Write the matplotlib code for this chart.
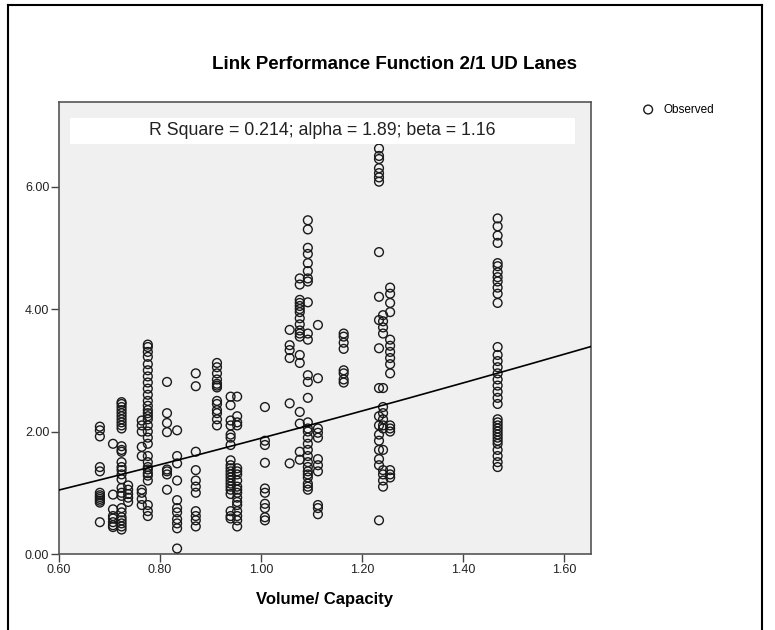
import numpy as np
import matplotlib.pyplot as plt
from matplotlib.lines import Line2D
from matplotlib.patches import Rectangle

plt.rcParams['font.family'] = ['Liberation Sans', 'DejaVu Sans']

# observed points, grouped by volume/capacity column
vc_levels = [0.681, 0.707, 0.724, 0.737, 0.764, 0.776, 0.814, 0.834, 0.871,
             0.913, 0.940, 0.953, 1.008, 1.057, 1.077, 1.093, 1.113, 1.164,
             1.234, 1.242, 1.256, 1.469]
tt_values = [
    [2.08, 2.02, 1.92, 1.42, 1.35, 1.00, 0.96, 0.93, 0.90, 0.87, 0.84, 0.52],
    [1.80, 0.97, 0.73, 0.62, 0.58, 0.52, 0.47, 0.44],
    [2.48, 2.45, 2.40, 2.35, 2.30, 2.25, 2.20, 2.15, 2.10, 2.05, 1.76, 1.70,
     1.67, 1.50, 1.42, 1.37, 1.30, 1.22, 1.08, 1.00, 0.95, 0.75, 0.68, 0.60,
     0.55, 0.50, 0.45, 0.40],
    [1.12, 1.05, 0.98, 0.92, 0.85],
    [2.18, 2.10, 2.00, 1.75, 1.60, 1.05, 1.00, 0.90, 0.80],
    [3.42, 3.38, 3.30, 3.22, 3.10, 3.00, 2.90, 2.80, 2.70, 2.60, 2.50, 2.42,
     2.35, 2.30, 2.25, 2.20, 2.10, 2.00, 1.90, 1.80, 1.60, 1.50, 1.42, 1.38,
     1.32, 1.28, 1.20, 0.80, 0.70, 0.62],
    [2.81, 2.30, 2.14, 1.99, 1.38, 1.35, 1.30, 1.05],
    [2.02, 1.60, 1.48, 1.20, 0.88, 0.75, 0.68, 0.57, 0.50, 0.42, 0.09],
    [2.95, 2.74, 1.67, 1.37, 1.20, 1.10, 1.00, 0.70, 0.62, 0.55, 0.45],
    [3.12, 3.05, 2.95, 2.85, 2.78, 2.75, 2.72, 2.50, 2.45, 2.35, 2.30, 2.20,
     2.10],
    [2.57, 2.43, 2.18, 2.10, 1.95, 1.90, 1.78, 1.53, 1.45, 1.40, 1.35, 1.30,
     1.25, 1.20, 1.15, 1.10, 1.05, 0.98, 0.70, 0.62, 0.58],
    [2.57, 2.25, 2.15, 2.10, 1.40, 1.35, 1.30, 1.20, 1.10, 1.05, 1.00, 0.92,
     0.85, 0.80, 0.70, 0.62, 0.55, 0.45],
    [2.40, 1.85, 1.78, 1.49, 1.07, 1.00, 0.82, 0.75, 0.60, 0.55],
    [3.66, 3.41, 3.33, 3.20, 2.46, 1.48],
    [4.50, 4.40, 4.15, 4.10, 4.05, 4.00, 3.95, 3.85, 3.75, 3.65, 3.60, 3.55,
     3.25, 3.12, 2.32, 2.13, 1.67, 1.54],
    [5.45, 5.30, 5.00, 4.90, 4.75, 4.62, 4.50, 4.45, 4.11, 3.60, 3.50, 2.92,
     2.81, 2.55, 2.15, 2.05, 2.00, 1.90, 1.80, 1.70, 1.60, 1.50, 1.42, 1.35,
     1.30, 1.25, 1.15, 1.10, 1.05],
    [3.74, 2.87, 2.05, 1.98, 1.90, 1.55, 1.45, 1.35, 0.80, 0.75, 0.65],
    [3.60, 3.55, 3.45, 3.35, 3.00, 2.95, 2.85, 2.80],
    [6.62, 6.50, 6.45, 6.30, 6.22, 6.15, 6.08, 4.93, 4.20, 3.82, 3.36, 2.71,
     2.25, 2.10, 1.95, 1.85, 1.70, 1.55, 1.45, 0.55],
    [3.90, 3.80, 3.70, 3.60, 2.71, 2.40, 2.30, 2.20, 2.10, 2.05, 1.70, 1.37,
     1.30, 1.20, 1.10],
    [4.35, 4.25, 4.10, 3.95, 3.50, 3.40, 3.30, 3.20, 3.10, 2.95, 2.10, 2.05,
     2.00, 1.37, 1.30, 1.25],
    [5.48, 5.35, 5.20, 5.08, 4.75, 4.70, 4.60, 4.52, 4.45, 4.35, 4.25, 4.10,
     3.38, 3.25, 3.15, 3.05, 2.95, 2.85, 2.75, 2.65, 2.55, 2.45, 2.20, 2.15,
     2.10, 2.05, 2.00, 1.95, 1.90, 1.85, 1.80, 1.70, 1.60, 1.50, 1.42],
]

alpha = 1.89
beta = 1.16
r_square = 0.214

x_obs = []
y_obs = []
for xv, ys in zip(vc_levels, tt_values):
    x_obs += [xv] * len(ys)
    y_obs += ys

fig = plt.figure(figsize=(7.75, 6.3), dpi=100)
ax = fig.add_axes([0.0761, 0.1206, 0.6865, 0.7174])
ax.set_facecolor('#f0f0f0')

ax.scatter(x_obs, y_obs, s=40, facecolors='none', edgecolors='#1a1a1a',
           linewidths=1.0, label='Observed', zorder=3)

xlim = (0.60, 1.654)
ylim = (0.0, 7.38)
xx = np.linspace(xlim[0], xlim[1], 200)
ax.plot(xx, alpha * xx ** beta, color='black', lw=1.2, zorder=4)

ax.set_xlim(xlim)
ax.set_ylim(ylim)
ax.set_xticks([0.6, 0.8, 1.0, 1.2, 1.4, 1.6])
ax.set_xticklabels(['0.60', '0.80', '1.00', '1.20', '1.40', '1.60'])
ax.set_yticks([0, 2, 4, 6])
ax.set_yticklabels(['0.00', '2.00', '4.00', '6.00'])
ax.tick_params(direction='out', length=6, width=1, color='#444444',
               labelsize=9, labelcolor='#222222', pad=1)
for s in ax.spines.values():
    s.set_color('#555555')
    s.set_linewidth(1.2)

ax.set_xlabel('Volume/ Capacity', fontsize=12, fontweight='bold', labelpad=12)

# fit statistics box
ax.add_patch(Rectangle((0.02, 0.907), 0.95, 0.058, transform=ax.transAxes,
                       facecolor='white', edgecolor='none', zorder=5))
ax.text(0.495, 0.936, 'R Square = %.3f; alpha = %.2f; beta = %.2f'
        % (r_square, alpha, beta), transform=ax.transAxes, ha='center',
        va='center', fontsize=12.8, color='#222222', zorder=6)

fig.text(0.509, 0.898, 'Link Performance Function 2/1 UD Lanes',
         ha='center', va='center', fontsize=13.5, fontweight='bold')

leg = fig.legend(loc='upper left', bbox_to_anchor=(0.815, 0.843),
                 frameon=False, fontsize=8.5, handletextpad=0.3,
                 borderaxespad=0)

# outer frame
fig.add_artist(Line2D([0.0103, 0.0103], [0.0, 0.992], color='black', lw=1.5))
fig.add_artist(Line2D([0.0103, 0.983], [0.992, 0.992], color='black', lw=1.5))
fig.add_artist(Line2D([0.983, 0.983], [0.0, 0.992], color='black', lw=1.5))

fig.savefig('out.png', dpi=100)
